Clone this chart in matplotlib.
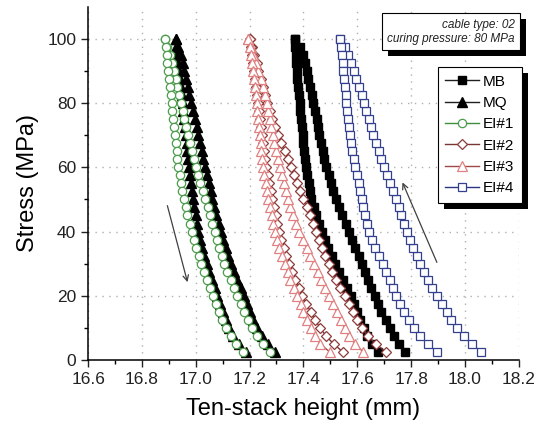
import numpy as np
import matplotlib
matplotlib.use('Agg')
import matplotlib.pyplot as plt
from matplotlib.patches import Rectangle

plt.rcParams['font.family'] = ['Liberation Sans', 'DejaVu Sans']

# stress levels (MPa), same for every branch, low -> high
stress = [2.5, 5, 7.5, 10, 12.5, 15, 17.5, 20, 22.5, 25, 27.5, 30, 32.5, 35, 37.5, 40,
          42.5, 45, 47.5, 50, 52.5, 55, 57.5, 60, 62.5, 65, 67.5, 70, 72.5, 75, 77.5, 80,
          82.5, 85, 87.5, 90, 92.5, 95, 97.5, 100]

# ten-stack height (mm): loading branch (right) and unloading branch (left)
mb_load = [17.776, 17.757, 17.738, 17.722, 17.706, 17.690, 17.677, 17.665, 17.652, 17.640,
           17.629, 17.618, 17.605, 17.593, 17.581, 17.570, 17.557, 17.544, 17.532, 17.520,
           17.511, 17.502, 17.494, 17.485, 17.478, 17.471, 17.465, 17.459, 17.454, 17.449,
           17.443, 17.437, 17.431, 17.424, 17.418, 17.412, 17.405, 17.398, 17.386, 17.368]
mb_unl = [17.677, 17.655, 17.638, 17.624, 17.612, 17.600, 17.588, 17.577, 17.563, 17.548,
          17.533, 17.519, 17.505, 17.492, 17.479, 17.468, 17.457, 17.447, 17.438, 17.430,
          17.425, 17.420, 17.415, 17.410, 17.406, 17.403, 17.400, 17.397, 17.395, 17.392,
          17.389, 17.386, 17.383, 17.380, 17.378, 17.376, 17.374, 17.372, 17.370, 17.368]

mq_load = [17.295, 17.270, 17.246, 17.228, 17.213, 17.200, 17.190, 17.180, 17.167, 17.155,
           17.142, 17.130, 17.120, 17.111, 17.102, 17.093, 17.085, 17.077, 17.069, 17.062,
           17.055, 17.048, 17.041, 17.034, 17.028, 17.022, 17.016, 17.010, 17.003, 16.997,
           16.990, 16.983, 16.976, 16.970, 16.964, 16.958, 16.952, 16.944, 16.935, 16.925]
mq_unl = [17.188, 17.160, 17.140, 17.125, 17.113, 17.102, 17.091, 17.080, 17.070, 17.060,
          17.050, 17.040, 17.032, 17.025, 17.017, 17.010, 17.005, 17.000, 16.995, 16.990,
          16.986, 16.982, 16.979, 16.975, 16.972, 16.969, 16.966, 16.963, 16.960, 16.957,
          16.954, 16.951, 16.948, 16.945, 16.941, 16.938, 16.935, 16.932, 16.928, 16.925]

ei1_load = [17.275, 17.250, 17.228, 17.210, 17.195, 17.181, 17.168, 17.155, 17.142, 17.130,
            17.117, 17.105, 17.096, 17.087, 17.078, 17.070, 17.061, 17.052, 17.044, 17.035,
            17.026, 17.017, 17.008, 17.000, 16.992, 16.985, 16.977, 16.970, 16.964, 16.957,
            16.951, 16.945, 16.938, 16.931, 16.925, 16.918, 16.911, 16.903, 16.895, 16.886]
ei1_unl = [17.176, 17.150, 17.130, 17.112, 17.099, 17.088, 17.076, 17.065, 17.053, 17.042,
           17.031, 17.020, 17.011, 17.002, 16.993, 16.985, 16.977, 16.969, 16.962, 16.955,
           16.950, 16.945, 16.940, 16.935, 16.932, 16.929, 16.925, 16.922, 16.919, 16.916,
           16.913, 16.910, 16.907, 16.904, 16.901, 16.898, 16.895, 16.892, 16.889, 16.886]

ei2_load = [17.708, 17.668, 17.640, 17.618, 17.600, 17.584, 17.568, 17.553, 17.537, 17.520,
            17.506, 17.494, 17.482, 17.470, 17.459, 17.448, 17.436, 17.424, 17.412, 17.400,
            17.389, 17.378, 17.366, 17.355, 17.342, 17.330, 17.317, 17.305, 17.295, 17.285,
            17.275, 17.265, 17.257, 17.249, 17.241, 17.233, 17.226, 17.218, 17.209, 17.200]
ei2_unl = [17.547, 17.512, 17.484, 17.462, 17.444, 17.427, 17.411, 17.396, 17.382, 17.369,
           17.357, 17.346, 17.336, 17.327, 17.318, 17.310, 17.303, 17.297, 17.291, 17.285,
           17.279, 17.273, 17.267, 17.262, 17.258, 17.254, 17.250, 17.246, 17.243, 17.240,
           17.236, 17.232, 17.228, 17.224, 17.219, 17.215, 17.212, 17.208, 17.204, 17.200]

ei3_load = [17.622, 17.592, 17.570, 17.553, 17.538, 17.524, 17.510, 17.496, 17.481, 17.467,
            17.453, 17.440, 17.426, 17.412, 17.398, 17.385, 17.374, 17.363, 17.352, 17.341,
            17.334, 17.327, 17.320, 17.313, 17.305, 17.298, 17.292, 17.286, 17.280, 17.275,
            17.269, 17.263, 17.257, 17.250, 17.242, 17.233, 17.224, 17.214, 17.205, 17.195]
ei3_unl = [17.498, 17.462, 17.443, 17.428, 17.413, 17.400, 17.390, 17.378, 17.365, 17.352,
           17.341, 17.330, 17.320, 17.311, 17.303, 17.295, 17.288, 17.282, 17.276, 17.270,
           17.265, 17.260, 17.255, 17.250, 17.247, 17.244, 17.241, 17.238, 17.235, 17.232,
           17.229, 17.226, 17.223, 17.220, 17.216, 17.212, 17.208, 17.204, 17.200, 17.195]

ei4_load = [18.061, 18.025, 17.995, 17.970, 17.950, 17.932, 17.914, 17.896, 17.879, 17.862,
            17.848, 17.834, 17.821, 17.808, 17.795, 17.785, 17.775, 17.764, 17.754, 17.744,
            17.733, 17.722, 17.711, 17.700, 17.689, 17.679, 17.668, 17.660, 17.651, 17.642,
            17.634, 17.625, 17.616, 17.606, 17.596, 17.587, 17.578, 17.566, 17.553, 17.537]
ei4_unl = [17.896, 17.862, 17.835, 17.812, 17.792, 17.775, 17.759, 17.745, 17.732, 17.720,
           17.707, 17.694, 17.680, 17.666, 17.653, 17.645, 17.637, 17.629, 17.622, 17.617,
           17.611, 17.605, 17.598, 17.592, 17.587, 17.582, 17.577, 17.573, 17.569, 17.566,
           17.563, 17.560, 17.557, 17.554, 17.551, 17.548, 17.546, 17.543, 17.540, 17.537]

labels = ['MB', 'MQ', 'EI#1', 'EI#2', 'EI#3', 'EI#4']

fig = plt.figure(figsize=(5.37, 4.25), dpi=100)
ax = fig.add_axes([0.164, 0.153, 0.802, 0.831])


def branch(load, unl):
    # loading up the right branch, then unloading down the left one
    s = np.array(stress)
    return (np.concatenate([load, unl[::-1]]),
            np.concatenate([s, s[::-1]]))


series = [
    (mb_load, mb_unl, dict(color='#202020', marker='s', ms=5.5, mfc='black', mec='black')),
    (mq_load, mq_unl, dict(color='#202020', marker='^', ms=6.5, mfc='black', mec='black')),
    (ei1_load, ei1_unl, dict(color='#3d8f3d', marker='o', ms=6, mfc='white', mec='#4c9c4c', mew=0.9)),
    (ei2_load, ei2_unl, dict(color='#7a3535', marker='D', ms=5, mfc='white', mec='#8e3a3a', mew=0.9)),
    (ei3_load, ei3_unl, dict(color='#a04848', marker='^', ms=6.5, mfc='white', mec='#e08080', mew=0.9)),
    (ei4_load, ei4_unl, dict(color='#2a3680', marker='s', ms=5.5, mfc='white', mec='#34408e', mew=0.9)),
]

for (load, unl, st), lab in zip(series, labels):
    x, y = branch(load, unl)
    ax.plot(x, y, lw=1.0, label=lab, **st)

# arrows (unloading / loading direction)
ax.annotate('', xy=(16.972, 23.4), xytext=(16.892, 48.9),
            arrowprops=dict(arrowstyle='->', color='#404040', lw=0.9))
ax.annotate('', xy=(17.764, 56.1), xytext=(17.90, 29.6),
            arrowprops=dict(arrowstyle='->', color='#404040', lw=0.9))

ax.set_xlim(16.6, 18.2)
ax.set_ylim(0, 110)
ax.set_xticks(np.arange(16.6, 18.21, 0.2))
ax.set_xticks(np.arange(16.7, 18.2, 0.2), minor=True)
ax.set_yticks([0, 20, 40, 60, 80, 100])
ax.set_yticks([10, 30, 50, 70, 90], minor=True)
ax.xaxis.set_major_formatter(plt.FormatStrFormatter('%.1f'))
ax.tick_params(which='major', direction='out', length=5, width=1, labelsize=12.5, colors='#222222')
ax.tick_params(which='minor', direction='out', length=3, width=1)
for sp in ['top', 'right']:
    ax.spines[sp].set_visible(False)
for sp in ['left', 'bottom']:
    ax.spines[sp].set_linewidth(1.1)

ax.grid(True, which='major', ls=(0, (1, 4)), color='#b0b0b0', lw=1)

ax.set_xlabel('Ten-stack height (mm)', fontsize=17, labelpad=8)
ax.set_ylabel('Stress (MPa)', fontsize=17, labelpad=6)

leg = ax.legend(loc='upper right', bbox_to_anchor=(1.007, 0.829), fontsize=11,
                frameon=True, fancybox=False, edgecolor='black', framealpha=1,
                handlelength=2.2, handletextpad=0.25, labelspacing=0.48,
                borderpad=0.5, borderaxespad=0)
leg.get_frame().set_linewidth(0.8)
leg.set_zorder(6)

txt = ax.text(0.99, 0.966, 'cable type: 02\ncuring pressure: 80 MPa',
              transform=ax.transAxes, ha='right', va='top', fontsize=8.5,
              style='italic', color='#222222', linespacing=1.25, zorder=6,
              bbox=dict(boxstyle='square,pad=0.45', fc='white', ec='black', lw=0.8))

# black drop shadows behind legend and text box
fig.canvas.draw()
inv = ax.transAxes.inverted()
for bb in [leg.get_window_extent(), txt.get_bbox_patch().get_window_extent()]:
    (x0, y0) = inv.transform((bb.x0 + 6, bb.y0 - 6))
    (x1, y1) = inv.transform((bb.x1 + 6, bb.y1 - 6))
    shadow = Rectangle((x0, y0), x1 - x0, y1 - y0, transform=ax.transAxes,
                       fc='black', ec='none', zorder=5.5, clip_on=False)
    ax.add_artist(shadow)

fig.savefig('out.png', dpi=100)
